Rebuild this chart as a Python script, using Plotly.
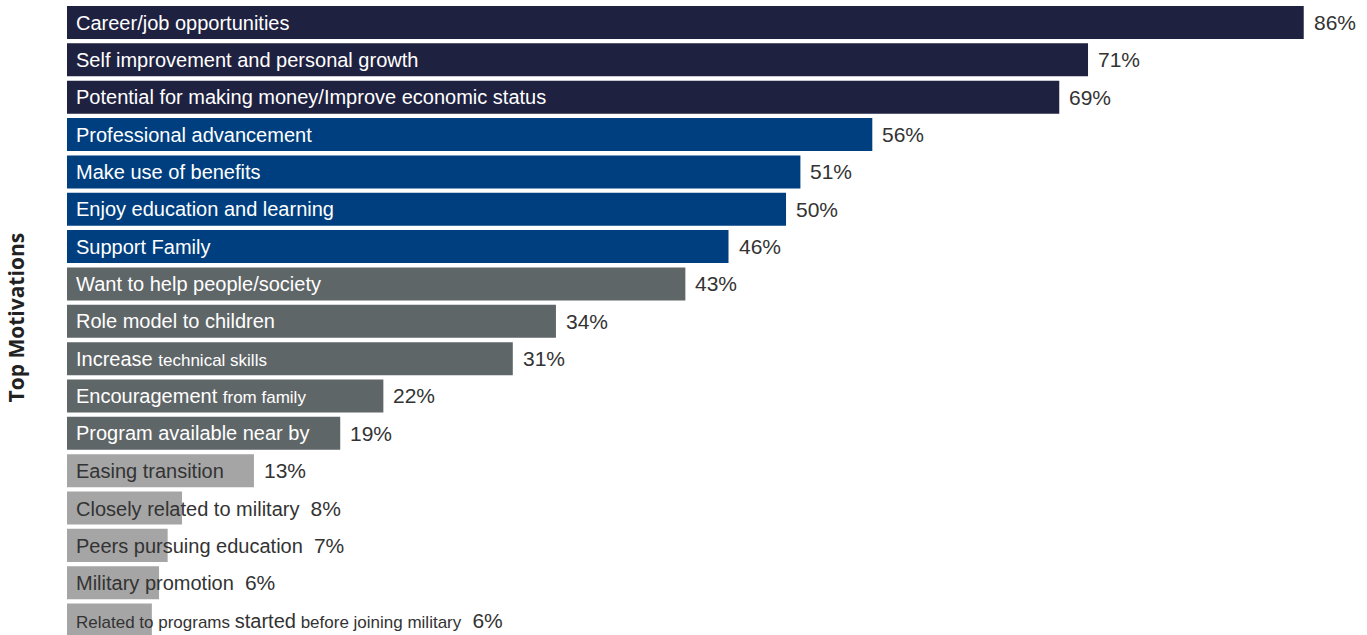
import plotly.graph_objects as go

categories = [
    "Career/job opportunities",
    "Self improvement and personal growth",
    "Potential for making money/Improve economic status",
    "Professional advancement",
    "Make use of benefits",
    "Enjoy education and learning",
    "Support Family",
    "Want to help people/society",
    "Role model to children",
    "Increase <span style='font-size:17px'>technical skills</span>",
    "Encouragement <span style='font-size:17px'>from family</span>",
    "Program available near by",
    "Easing transition",
    "Closely related to military",
    "Peers pursuing education",
    "Military promotion",
    "<span style='font-size:17px'>Related to programs </span>started<span style='font-size:17px'> before joining military</span>",
]
values = [86, 71, 69, 56, 51, 50, 46, 43, 34, 31, 22, 19, 13, 8, 7, 6.4, 5.9]
value_labels = ["86%", "71%", "69%", "56%", "51%", "50%", "46%", "43%", "34%",
                "31%", "22%", "19%", "13%", "8%", "7%", "6%", "6%"]
groups = ["top"] * 3 + ["mid"] * 4 + ["low"] * 5 + ["min"] * 5

group_colors = {"top": "#1f2140", "mid": "#003f7f", "low": "#5f6668", "min": "#a5a5a5"}
text_colors = {"top": "white", "mid": "white", "low": "white", "min": "#333333"}

ids = list(range(len(categories)))

fig = go.Figure()
fig.add_trace(go.Bar(
    x=values, y=ids, orientation="h",
    marker=dict(color=[group_colors[g] for g in groups], line=dict(width=0)),
    hoverinfo="skip",
))

FONT = "Liberation Sans, Arial, sans-serif"
annotations = []
for i, (cat, v, lab, g) in enumerate(zip(categories, values, value_labels, groups)):
    inline = v < 10
    text = cat
    if inline:
        text = cat + "&nbsp;&nbsp;<span style='font-size:21px'>" + lab + "</span>"
    annotations.append(dict(
        x=0, y=i, xref="x", yref="y", text=text, showarrow=False,
        xanchor="left", yanchor="middle", xshift=7,
        font=dict(family=FONT, size=20, color=text_colors[g]),
    ))
    if not inline:
        annotations.append(dict(
            x=v, y=i, xref="x", yref="y", text=lab, showarrow=False,
            xanchor="left", yanchor="middle", xshift=8,
            font=dict(family=FONT, size=21, color="#333333"),
        ))

annotations.append(dict(
    x=0, y=0.5, xref="paper", yref="paper", text="<b>Top Motivations</b>",
    textangle=-90, showarrow=False, xanchor="right", yanchor="middle",
    xshift=-36, font=dict(family="Open Sans, Lato, sans-serif", size=21, color="#222222"),
))

fig.update_layout(
    width=1367, height=635,
    margin=dict(l=67, r=0, t=0, b=0),
    plot_bgcolor="white", paper_bgcolor="white",
    bargap=0.116, showlegend=False,
    xaxis=dict(range=[0, 90.4], visible=False, fixedrange=True),
    yaxis=dict(range=[16.40, -0.603], visible=False, fixedrange=True),
    annotations=annotations,
)

fig.write_html(
    "out.html",
    config={"displayModeBar": False, "staticPlot": True},
    post_script="document.body.style.margin='0';document.body.style.overflow='hidden';",
)
